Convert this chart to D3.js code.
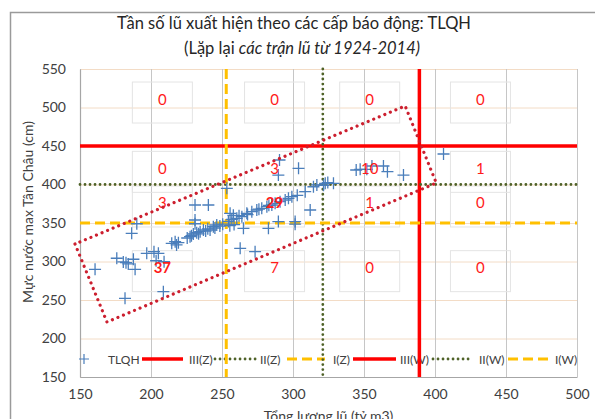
<html>
<head>
<meta charset="utf-8">
<script src="https://cdn.jsdelivr.net/npm/d3@7"></script>
<style>
body { margin: 0; background: #fff; }
text { font-family: Lato, "Noto Sans", sans-serif; }
</style>
</head>
<body>
<script>
// ---- data ----
var tongLuong = [ // x: tong luong lu (ty m3)
  160.6,181.7,208.7,186.4,175.9,182.4,184.0,187.6,188.8,180.5,197.0,202.1,205.2,203.6,209.2,214.6,217.0,219.3,218.0,
  227.5,229.8,232.2,234.6,236.9,231.0,243.9,246.3,241.6,238.5,225.5,228.5,233.5,245.0,248.5,250.5,190.0,240.0,
  265.1,282.7,262.8,273.3,255.5,301.5,258.5,
  231.0,240.4,231.0,
  267.5,271.0,274.5,278.0,281.6,285.1,287.4,290.9,294.5,296.8,299.2,
  253.4,255.7,256.9,260.4,264.0,289.7,301.5,308.6,312.1,316.8,314.4,254.5,258.0,262.0,268.0,276.0,283.0,303.0,
  321.5,
  290.5,289.7,303.9,
  344.5,347.3,352.0,355.6,363.7,366.5,377.8,322.7,328.5,324.5,
  406.0
];
var mucNuoc = [ // y: muc nuoc max Tan Chau (cm)
  289.9,252.2,260.8,336.6,304.2,298.5,296.8,302.9,289.9,299.5,310.6,312.7,310.6,301.0,299.7,323.6,325.7,324.4,321.5,
  332.2,335.7,337.4,338.7,340.9,349.0,345.2,347.4,340.9,339.5,330.5,333.5,336.0,343.5,346.0,348.5,349.0,342.5,
  343.1,343.1,317.1,312.7,346.5,348.5,348.0,
  373.4,373.4,353.9,
  362.6,364.7,366.9,369.1,371.2,373.4,375.6,377.7,379.9,382.1,384.2,
  395.0,362.6,354.8,356.1,358.2,351.8,351.8,390.7,366.9,399.4,397.1,352.0,360.0,359.5,361.0,368.0,373.0,386.0,
  399.0,
  431.8,412.3,421.0,
  418.8,419.7,419.7,424.0,424.0,416.6,412.3,401.5,401.5,402.5,
  439.6
];

var capBaoDong = ["III", "II", "I"];
var mucZ = [450, 400, 350];   // water level alarms (horizontal)
var mucW = [389, 321, 253];   // volume alarms (vertical)

var legendNames = ["TLQH", "III(Z)", "II(Z)", "I(Z)", "III(W)", "II(W)", "I(W)"];

// frequency counts per cell and where their labels sit (data units)
var countLabelX = [208, 287, 354, 432];
var countLabelY = [511, 421, 376, 292];
var counts = [
  ["0", "0", "0", "0"],
  ["0", "3", "10", "1"],
  ["3", "29", "1", "0"],
  ["37", "7", "0", "0"]
];

// hand drawn dotted frame around the points
var frame = [[146.5, 322.7], [169.0, 221.4], [400.9, 401.9], [379.0, 502.0]];

var xTicks = [150, 200, 250, 300, 350, 400, 450, 500];
var yTicks = [150, 200, 250, 300, 350, 400, 450, 500, 550];

// ---- chart ----
var width = 595, height = 419;
var pLeft = 80, pRight = 577, pTop = 69, pBottom = 377;

var svg = d3.select("body").append("svg")
    .attr("width", width)
    .attr("height", height);

var x = d3.scaleLinear().domain([150, 500]).range([pLeft, pRight]);
var y = d3.scaleLinear().domain([150, 550]).range([pBottom, pTop]);

// chart border
svg.append("rect")
    .attr("x", 10.5).attr("y", 12.5)
    .attr("width", 620).attr("height", 430)
    .attr("fill", "none").attr("stroke", "#9a9a9a").attr("stroke-width", 1.5);

// titles
svg.append("text")
    .attr("x", 294).attr("y", 29)
    .attr("text-anchor", "middle")
    .attr("font-size", 16.5).attr("fill", "#262626")
    .text("Tần số lũ xuất hiện theo các cấp báo động: TLQH");

var sub = svg.append("text")
    .attr("x", 302).attr("y", 54)
    .attr("text-anchor", "middle")
    .attr("font-size", 16.5).attr("fill", "#262626");
sub.append("tspan").text("(Lặp lại ");
sub.append("tspan").attr("font-style", "italic").text("các trận lũ từ 1924-2014)");

// grid
svg.append("g").selectAll("line").data(yTicks).join("line")
    .attr("x1", pLeft).attr("x2", pRight)
    .attr("y1", d => y(d) + 0.5).attr("y2", d => y(d) + 0.5)
    .attr("stroke", "#f3dcc6").attr("stroke-width", 1);

svg.append("g").selectAll("line").data(xTicks).join("line")
    .attr("x1", d => x(d) + 0.5).attr("x2", d => x(d) + 0.5)
    .attr("y1", pTop).attr("y2", pBottom)
    .attr("stroke", "#c6c6c6").attr("stroke-width", 1);

// axes
var xAxis = svg.append("g")
    .attr("transform", "translate(0," + pBottom + ")")
    .call(d3.axisBottom(x).tickValues(xTicks).tickSize(0).tickPadding(12));
var yAxis = svg.append("g")
    .attr("transform", "translate(" + pLeft + ",0)")
    .call(d3.axisLeft(y).tickValues(yTicks).tickSize(0).tickPadding(14));
[xAxis, yAxis].forEach(function (a) {
  a.select(".domain").attr("stroke", "#a6a6a6").attr("stroke-width", 1.2);
  a.selectAll("text").attr("font-size", 14).attr("fill", "#404040")
    .style("font-family", "Lato, 'Noto Sans', sans-serif");
});

svg.append("text")
    .attr("x", (pLeft + pRight) / 2).attr("y", 421)
    .attr("text-anchor", "middle")
    .attr("font-size", 14).attr("fill", "#404040")
    .text("Tổng lượng lũ (tỷ m3)");

svg.append("text")
    .attr("transform", "translate(33,212) rotate(-90)")
    .attr("text-anchor", "middle")
    .attr("font-size", 14).attr("fill", "#404040")
    .text("Mực nước max Tân Châu (cm)");

// line styles for the alarm levels
var styles = {
  "III": {color: "#ff0000", width: 3.5, dash: null, cap: "butt"},
  "II":  {color: "#4f6228", width: 2.8, dash: "0.01 5", cap: "round"},
  "I":   {color: "#ffc000", width: 3, dash: "10 5", cap: "butt"}
};

// legend (inside plot, underneath the alarm lines)
var legend = svg.append("g");
var legendY = 359;
var legendTextX = [108, 189, 260, 333, 400, 479, 555];
var legendLineX = [[142, 183], [215, 256], [287, 325], [353, 396], [433, 473], [508, 548]];
legend.append("path")
    .attr("d", "M" + (84 - 5) + "," + legendY + "h10M84," + (legendY - 5) + "v10")
    .attr("stroke", "#4a7ebb").attr("stroke-width", 1.2);
legendNames.forEach(function (n, i) {
  legend.append("text")
      .attr("x", legendTextX[i]).attr("y", legendY + 4.5)
      .attr("font-size", 12).attr("fill", "#404040")
      .text(n);
  if (i > 0) {
    var s = styles[capBaoDong[(i - 1) % 3]];
    legend.append("line")
        .attr("x1", legendLineX[i - 1][0]).attr("x2", legendLineX[i - 1][1])
        .attr("y1", legendY).attr("y2", legendY)
        .attr("stroke", s.color).attr("stroke-width", s.width)
        .attr("stroke-dasharray", s.dash).attr("stroke-linecap", s.cap);
  }
});

// faint boxes behind count labels
var cells = [];
counts.forEach(function (row, r) {
  row.forEach(function (c, k) {
    cells.push({text: c, x: countLabelX[k], y: countLabelY[r]});
  });
});
svg.append("g").selectAll("rect").data(cells).join("rect")
    .attr("x", d => x(d.x) - 30).attr("y", d => y(d.y) - 17)
    .attr("width", 60).attr("height", 41)
    .attr("fill", "none").attr("stroke", "#e4e4e4").attr("stroke-width", 1);

// alarm lines
var alarms = svg.append("g");
capBaoDong.forEach(function (c, i) {
  var s = styles[c];
  alarms.append("line")
      .attr("x1", pLeft).attr("x2", pRight)
      .attr("y1", y(mucZ[i])).attr("y2", y(mucZ[i]))
      .attr("stroke", s.color).attr("stroke-width", s.width)
      .attr("stroke-dasharray", s.dash).attr("stroke-linecap", s.cap);
  alarms.append("line")
      .attr("x1", x(mucW[i])).attr("x2", x(mucW[i]))
      .attr("y1", pTop).attr("y2", pBottom)
      .attr("stroke", s.color).attr("stroke-width", s.width)
      .attr("stroke-dasharray", s.dash).attr("stroke-linecap", s.cap);
});

// points
svg.append("g").selectAll("path").data(tongLuong).join("path")
    .attr("transform", (d, i) => "translate(" + x(d) + "," + y(mucNuoc[i]) + ")")
    .attr("d", "M-6,0H6M0,-6V6")
    .attr("stroke", "#4a7ebb").attr("stroke-width", 1.3);

// count labels
svg.append("g").selectAll("text").data(cells).join("text")
    .attr("x", d => x(d.x)).attr("y", d => y(d.y) + 5.5)
    .attr("text-anchor", "middle")
    .attr("font-size", 15)
    .attr("font-weight", d => (d.text == "37" || d.text == "29") ? "bold" : "normal")
    .attr("fill", "#ff1a1a")
    .text(d => d.text);

// dotted frame
svg.append("path")
    .attr("d", d3.line().x(d => x(d[0])).y(d => y(d[1]))(frame) + "Z")
    .attr("fill", "none").attr("stroke", "#cc1f2f").attr("stroke-width", 3.2)
    .attr("stroke-dasharray", "0.01 6").attr("stroke-linecap", "round");
</script>
</body>
</html>
